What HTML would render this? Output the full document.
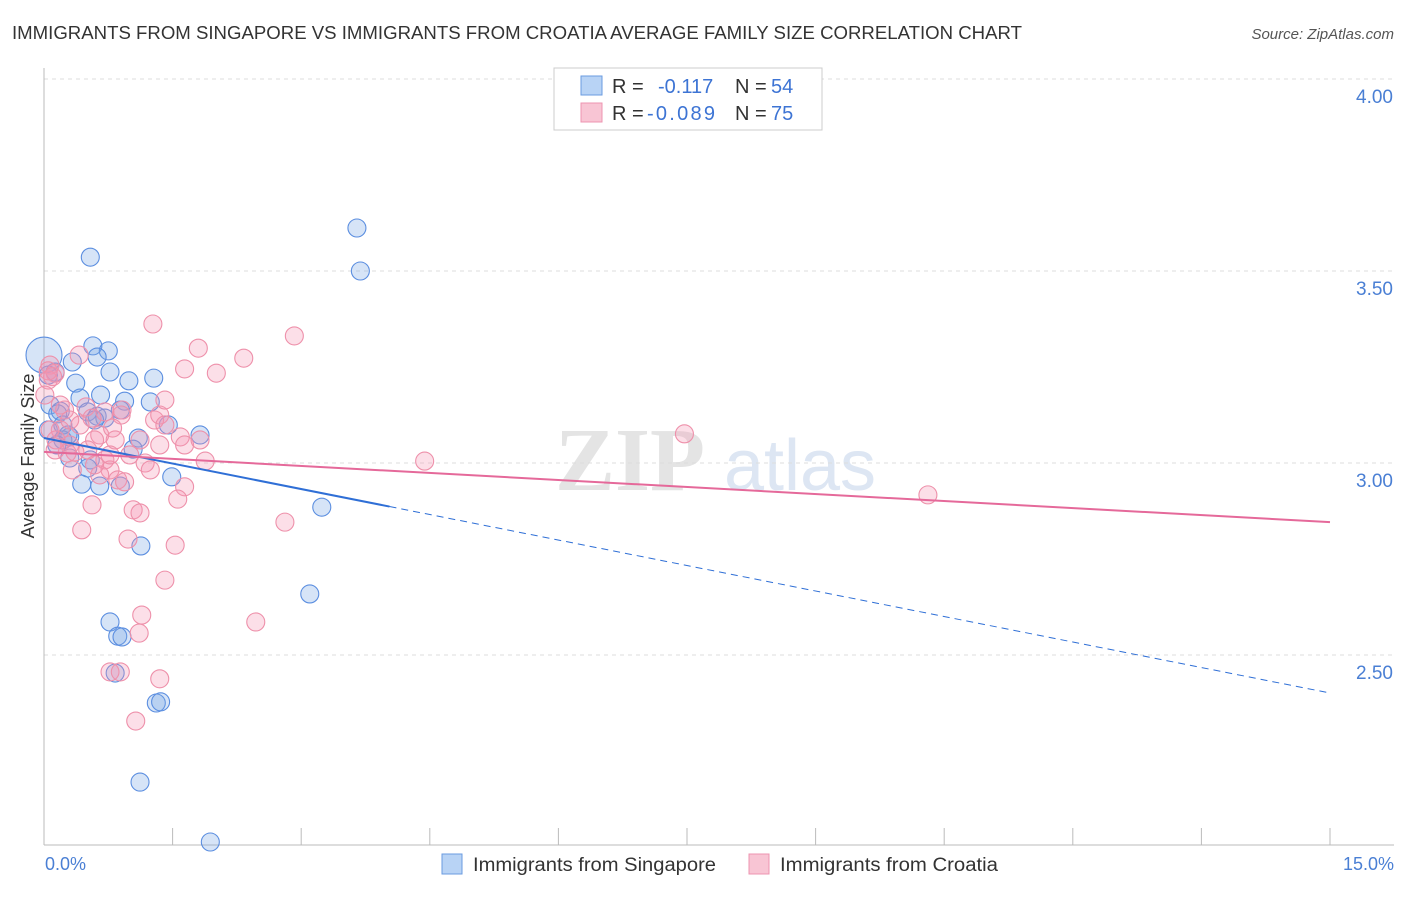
<!DOCTYPE html>
<html><head><meta charset="utf-8"><style>
html,body{margin:0;padding:0;background:#fff;}
body{width:1406px;height:892px;overflow:hidden;font-family:"Liberation Sans",sans-serif;}
</style></head><body>
<svg id="chart" width="1406" height="892" xmlns="http://www.w3.org/2000/svg" font-family="Liberation Sans, sans-serif">
<text x="12" y="39" font-size="18" fill="#333" textLength="1010" lengthAdjust="spacingAndGlyphs">IMMIGRANTS FROM SINGAPORE VS IMMIGRANTS FROM CROATIA AVERAGE FAMILY SIZE CORRELATION CHART</text>
<text x="1394" y="39" font-size="15" fill="#555" text-anchor="end" font-style="italic">Source: ZipAtlas.com</text>
<g>
<text x="630" y="490" font-size="90" fill="#e4e4e4" text-anchor="middle" font-family="Liberation Serif, serif" font-weight="bold">ZIP</text>
<text x="800" y="490" font-size="72" fill="#dde6f3" text-anchor="middle">atlas</text>
</g>
<g id="grid"></g>
<g id="axes"></g>
<g id="pts"></g>
<g id="lines"></g>
<text transform="translate(34,456) rotate(-90)" font-size="18" fill="#333" text-anchor="middle">Average Family Size</text>
<text x="45" y="870" font-size="18" fill="#4a7fd4">0.0%</text>
<text x="1394" y="870" font-size="18" fill="#4a7fd4" text-anchor="end">15.0%</text>
<g>
<rect x="554" y="68" width="268" height="62" fill="#fff" stroke="#ccc"/>
<rect x="581" y="76" width="21" height="19" fill="#b8d3f5" stroke="#6a9be0"/>
<rect x="581" y="103" width="21" height="19" fill="#f8c5d4" stroke="#ee94b0"/>
<text x="612" y="93" font-size="20" fill="#333">R =</text>
<text x="658" y="93" font-size="20" fill="#3d74d4">-0.117</text>
<text x="735" y="93" font-size="20" fill="#333">N =</text>
<text x="771" y="93" font-size="20" fill="#3d74d4">54</text>
<text x="612" y="120" font-size="20" fill="#333">R =</text>
<text x="647" y="120" font-size="20" fill="#3d74d4" textLength="68">-0.089</text>
<text x="735" y="120" font-size="20" fill="#333">N =</text>
<text x="771" y="120" font-size="20" fill="#3d74d4">75</text>
</g>
<g>
<rect x="442" y="854" width="20" height="20" fill="#b8d3f5" stroke="#6a9be0"/>
<text x="473" y="871" font-size="19" fill="#333" textLength="243" lengthAdjust="spacingAndGlyphs">Immigrants from Singapore</text>
<rect x="749" y="854" width="20" height="20" fill="#f8c5d4" stroke="#ee94b0"/>
<text x="780" y="871" font-size="19" fill="#333" textLength="218" lengthAdjust="spacingAndGlyphs">Immigrants from Croatia</text>
</g>
</svg>
<script>
const blueX=[0.54,3.65,3.69,0.57,0.75,0.62,0.33,0.77,0.37,0.99,1.28,0.42,0.66,0.94,0.07,0.19,0.51,0.62,0.16,1.45,1.82,1.10,0.30,0.22,0.05,1.04,0.54,0.30,0.51,1.49,0.44,0.65,0.89,3.24,1.13,3.10,0.77,0.86,0.91,0.83,1.31,1.36,1.12,1.94,0.0,0.13,0.05,0.22,0.71,0.28,0.15,1.24,0.59,0.89];
const blueY=[3.536,3.612,3.500,3.305,3.292,3.276,3.263,3.237,3.208,3.214,3.221,3.169,3.177,3.161,3.151,3.135,3.133,3.122,3.128,3.099,3.073,3.065,3.068,3.060,3.086,3.036,3.008,3.013,2.987,2.964,2.945,2.940,2.940,2.885,2.784,2.659,2.586,2.549,2.547,2.453,2.375,2.378,2.169,2.013,3.281,3.237,3.229,3.099,3.117,3.073,3.047,3.159,3.112,3.138];
const pinkX=[1.27,2.92,1.80,2.33,1.64,2.01,0.41,0.07,0.05,0.13,0.91,1.29,1.35,0.90,0.65,0.80,0.49,0.56,0.24,0.19,0.30,0.36,0.27,0.71,1.18,1.59,1.35,1.64,1.82,1.88,0.77,0.65,0.86,0.94,1.64,1.56,0.56,1.04,1.12,2.81,0.44,0.98,1.53,1.41,1.14,2.47,1.11,0.77,0.89,1.35,1.07,4.44,7.47,10.31,0.30,0.42,0.83,0.59,0.14,0.07,0.51,0.19,0.01,1.00,1.24,1.41,0.59,0.33,1.12,0.13,0.71,1.41,0.77,0.05,0.10];
const pinkY=[3.362,3.331,3.299,3.273,3.245,3.234,3.281,3.255,3.216,3.234,3.138,3.112,3.125,3.125,3.073,3.091,3.146,3.117,3.138,3.086,3.047,3.029,3.026,3.008,3.000,3.068,3.047,3.047,3.060,3.005,2.982,2.969,2.956,2.951,2.938,2.906,2.891,2.878,2.870,2.846,2.826,2.802,2.786,2.695,2.604,2.586,2.557,2.456,2.456,2.438,2.328,3.005,3.076,2.917,3.112,3.099,3.060,3.060,3.060,3.086,3.034,3.151,3.177,3.021,2.982,3.099,2.995,2.982,3.060,3.034,3.133,3.164,3.021,3.240,3.225];
const yTicks=[4.0,3.5,3.0,2.5];
const yTickLabels=["4.00","3.50","3.00","2.50"];
const blueTrend=[3.065,2.401];
const pinkTrend=[3.029,2.846];
const NS="http://www.w3.org/2000/svg";
function sx(v){return 44+v/15*1286;}
function sy(v){return 79+(4-v)*384;}
function mk(tag,attrs,parent){const e=document.createElementNS(NS,tag);for(const k in attrs)e.setAttribute(k,attrs[k]);parent.appendChild(e);return e;}
const grid=document.getElementById('grid'),axes=document.getElementById('axes'),pts=document.getElementById('pts'),lines=document.getElementById('lines');
yTicks.forEach((t,i)=>{
  const l=mk('line',{x1:44,x2:1394,y1:sy(t),y2:sy(t),stroke:'#ddd','stroke-dasharray':'4,4'},grid);
  
  
  const tx=mk('text',{x:1393,y:sy(t)+24,'font-size':19,fill:'#4a7fd4','text-anchor':'end'},axes);
  tx.textContent=yTickLabels[i];
  
  
});
const ya=mk('line',{x1:44,x2:44,y1:68,y2:845,stroke:'#bbb'},axes);


const xa=mk('line',{x1:44,x2:1394,y1:845,y2:845,stroke:'#bbb'},axes);


for(let i=1;i<=10;i++){
  const x=sx(i*1.5);
  const tk=mk('line',{x1:x,x2:x,y1:828,y2:845,stroke:'#bbb'},axes);
  
  
}
blueX.forEach((v,i)=>{
  const c=mk('circle',{cx:sx(v),cy:sy(blueY[i]),r:(i===44?18:9),fill:'rgba(120,165,230,0.3)',stroke:'#5b8ee0','stroke-width':1.1},pts);
  
  
});
pinkX.forEach((v,i)=>{
  const c=mk('circle',{cx:sx(v),cy:sy(pinkY[i]),r:9,fill:'rgba(245,150,180,0.3)',stroke:'#ee90aa','stroke-width':1.1},pts);
  
  
});
function trendAt(tr,x){return tr[0]+(tr[1]-tr[0])*x/15;}
const bs=mk('line',{x1:sx(0),y1:sy(blueTrend[0]),x2:sx(4.03),y2:sy(trendAt(blueTrend,4.03)),stroke:'#2f6fd6','stroke-width':2},lines);


const bd=mk('line',{x1:sx(4.03),y1:sy(trendAt(blueTrend,4.03)),x2:sx(15),y2:sy(blueTrend[1]),stroke:'#2f6fd6','stroke-width':1,'stroke-dasharray':'7,5'},lines);


const pl=mk('line',{x1:sx(0),y1:sy(pinkTrend[0]),x2:sx(15),y2:sy(pinkTrend[1]),stroke:'#e5699a','stroke-width':2},lines);


</script>
</body></html>
